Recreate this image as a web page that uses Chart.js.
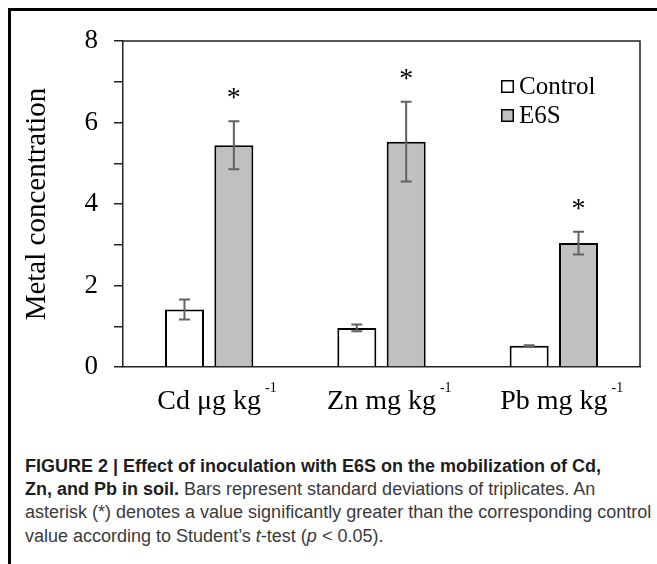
<!DOCTYPE html>
<html><head><meta charset="utf-8">
<script src="https://cdn.jsdelivr.net/npm/chart.js@4"></script>
<style>
html,body{margin:0;padding:0;background:#fff;width:657px;height:564px;overflow:hidden;}
#frame{position:absolute;left:8px;top:8px;width:700px;height:600px;border-left:3px solid #000;border-top:3px solid #000;}
#wrap{position:absolute;left:0;top:0;width:657px;height:430px;}
#caption{position:absolute;left:25px;top:455px;font-family:"Liberation Sans",Arial,sans-serif;font-size:18px;line-height:23.2px;color:#3a3a3a;white-space:nowrap;}
#caption b{color:#1e1e1e;}
</style></head>
<body>
<div id="frame"></div>
<div id="wrap"><canvas id="c" width="657" height="430" style="width:657px;height:430px"></canvas></div>
<div id="caption"><b>FIGURE 2 | Effect of inoculation with E6S on the mobilization of Cd,<br>Zn, and Pb in soil.</b> Bars represent standard deviations of triplicates. An<br>asterisk (*) denotes a value significantly greater than the corresponding control<br>value according to Student’s <i>t</i>-test (<i>p</i> &lt; 0.05).</div>
<script>
const categories = ['Cd μg kg', 'Zn mg kg', 'Pb mg kg'];
const unitExponent = '-1';
const controlMean = [1.41, 0.96, 0.52];
const controlSD = [0.245, 0.08, 0.015];
const e6sMean = [5.44, 5.53, 3.04];
const e6sSD = [0.59, 0.98, 0.28];
const e6sSignificant = [true, true, true];
const yMin = 0, yMax = 8, yStep = 1;

const SERIF = '"Liberation Serif","Times New Roman",serif';

const decor = {
  id: 'decor',
  afterDatasetsDraw(chart) {
    const ctx = chart.ctx;
    const ys = chart.scales.y;
    chart.data.datasets.forEach((ds, i) => {
      const meta = chart.getDatasetMeta(i);
      meta.data.forEach((el, j) => {
        const m = ds.data[j], sd = ds.sd[j];
        const yt = ys.getPixelForValue(m + sd);
        const yb = ys.getPixelForValue(m - sd);
        ctx.save();
        ctx.strokeStyle = '#626262';
        ctx.lineWidth = 2;
        ctx.beginPath();
        ctx.moveTo(el.x, yt); ctx.lineTo(el.x, yb);
        ctx.moveTo(el.x - 5.5, yt); ctx.lineTo(el.x + 5.5, yt);
        ctx.moveTo(el.x - 5.5, yb); ctx.lineTo(el.x + 5.5, yb);
        ctx.stroke();
        ctx.restore();
      });
    });
    const meta1 = chart.getDatasetMeta(1);
    meta1.data.forEach((el, j) => {
      if (!e6sSignificant[j]) return;
      const yt = ys.getPixelForValue(e6sMean[j] + e6sSD[j]);
      ctx.save();
      ctx.fillStyle = '#000';
      ctx.font = '28px ' + SERIF;
      ctx.textAlign = 'center';
      ctx.textBaseline = 'alphabetic';
      ctx.fillText('*', el.x, yt - 15);
      ctx.restore();
    });
  },
  afterDraw(chart) {
    const ctx = chart.ctx;
    const ca = chart.chartArea;
    ctx.save();
    ctx.strokeStyle = '#222';
    ctx.lineWidth = 1.5;
    ctx.beginPath();
    ctx.moveTo(ca.left, ca.top); ctx.lineTo(ca.right, ca.top);
    ctx.lineTo(ca.right, ca.bottom);
    ctx.stroke();
    ctx.restore();
    const xs = chart.scales.x;
    ctx.save();
    categories.forEach((lab, i) => {
      ctx.font = '28px ' + SERIF;
      const w = ctx.measureText(lab).width;
      const x = xs.getPixelForValue(i) + w / 2 + 4;
      ctx.font = '14px ' + SERIF;
      ctx.fillStyle = '#000';
      ctx.textAlign = 'left';
      ctx.textBaseline = 'alphabetic';
      ctx.fillText(unitExponent, x, 392);
    });
    ctx.restore();
    ctx.save();
    chart.data.datasets.forEach((ds, k) => {
      const by = 80 + 29 * k;
      ctx.fillStyle = ds.backgroundColor;
      ctx.fillRect(501, by, 13, 13);
      ctx.strokeStyle = '#000';
      ctx.lineWidth = 1.5;
      ctx.strokeRect(501.75, by + 0.75, 11.5, 11.5);
      ctx.fillStyle = '#000';
      ctx.font = '25px ' + SERIF;
      ctx.textAlign = 'left';
      ctx.textBaseline = 'alphabetic';
      ctx.fillText(ds.label, 519, 94 + 29 * k);
    });
    ctx.restore();
  }
};

new Chart(document.getElementById('c'), {
  type: 'bar',
  data: {
    labels: categories,
    datasets: [
      { label: 'Control', data: controlMean, sd: controlSD, backgroundColor: '#ffffff', borderColor: '#000', borderWidth: 2 },
      { label: 'E6S', data: e6sMean, sd: e6sSD, backgroundColor: '#c0c0c0', borderColor: '#000', borderWidth: 2 }
    ]
  },
  options: {
    responsive: false,
    animation: false,
    categoryPercentage: 0.573,
    barPercentage: 0.79,
    layout: { padding: { top: 41, right: 17, left: 0, bottom: 0 } },
    plugins: { legend: { display: false }, tooltip: { enabled: false } },
    scales: {
      x: {
        grid: { display: false, drawTicks: false },
        border: { display: true, color: '#222', width: 1.5 },
        ticks: { font: { family: SERIF, size: 28 }, color: '#000', padding: 18, maxRotation: 0, autoSkip: false },
        afterFit: s => { s.height = 63; }
      },
      y: {
        min: yMin, max: yMax,
        ticks: { stepSize: yStep, autoSkip: false, font: { family: SERIF, size: 27 }, color: '#000', padding: 16,
                 callback: v => (v % 2 === 0 ? String(v) : '') },
        grid: { drawOnChartArea: false, drawTicks: true, tickLength: 9, color: '#222', lineWidth: 1.5 },
        border: { display: true, color: '#222', width: 1.5 },
        title: { display: true, text: 'Metal concentration', font: { family: SERIF, size: 29 }, color: '#000', padding: { top: 20, bottom: 0 } },
        afterFit: s => { s.width = 123; }
      }
    }
  },
  plugins: [decor]
});
</script>
</body></html>
